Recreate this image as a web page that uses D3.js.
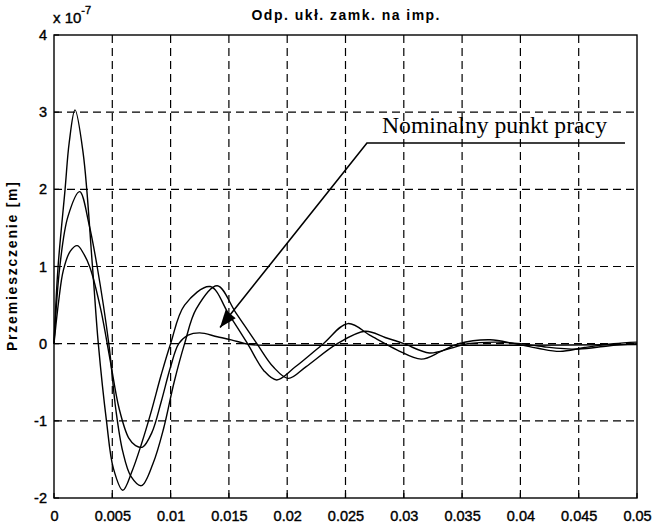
<!DOCTYPE html>
<html>
<head>
<meta charset="utf-8">
<script src="https://cdn.jsdelivr.net/npm/d3@7"></script>
<style>
  html, body { margin: 0; padding: 0; background: #fff; }
  svg { display: block; }
</style>
</head>
<body>
<div id="chart"></div>
<script>
// ---- data (time in s, displacement in units of 1e-7 m) ----
const title = "Odp. ukł. zamk. na imp.";
const yLabel = "Przemieszczenie [m]";
const annotationText = "Nominalny punkt pracy";
const xTicks = [0, 0.005, 0.01, 0.015, 0.02, 0.025, 0.03, 0.035, 0.04, 0.045, 0.05];
const xTickLabels = ["0", "0.005", "0.01", "0.015", "0.02", "0.025", "0.03", "0.035", "0.04", "0.045", "0.05"];
const yTicks = [-2, -1, 0, 1, 2, 3, 4];
const yTickLabels = ["-2", "-1", "0", "1", "2", "3", "4"];

const seriesA = [[0,0],[0.00035,1.0],[0.00095,2.0],[0.0013,2.6],[0.0018,3.03],[0.0025,2.47],[0.0033,1.0],[0.0038,0.0],[0.0045,-1.0],[0.0051,-1.62],[0.0059,-1.9],[0.0067,-1.65],[0.0075,-1.3],[0.0083,-0.9],[0.0092,-0.4],[0.0100,0.0],[0.0112,0.5],[0.0134,0.74],[0.0150,0.38],[0.0166,0.0],[0.0180,-0.35],[0.0191,-0.47],[0.0207,-0.3],[0.0231,0.0],[0.0252,0.26],[0.0272,0.1],[0.0294,-0.08],[0.0315,-0.2],[0.0332,-0.1],[0.0347,0.0],[0.0374,0.05],[0.0395,0.0],[0.0415,-0.06],[0.0434,-0.1],[0.0455,-0.05],[0.0480,0.0],[0.0500,0.02]];
const seriesB = [[0,0],[0.0005,1.0],[0.0012,1.65],[0.0022,1.97],[0.0030,1.55],[0.0037,1.0],[0.0047,0.0],[0.0053,-0.85],[0.0059,-1.4],[0.0066,-1.72],[0.0075,-1.84],[0.0085,-1.55],[0.0094,-1.1],[0.0103,-0.5],[0.0112,0.0],[0.0122,0.45],[0.0140,0.75],[0.0156,0.4],[0.0174,0.0],[0.0188,-0.3],[0.0201,-0.45],[0.0216,-0.3],[0.0243,0.0],[0.0267,0.16],[0.0284,0.08],[0.0300,0.0],[0.0322,-0.12],[0.0340,-0.06],[0.0355,0.0],[0.0380,0.02],[0.0400,0.0],[0.0420,-0.04],[0.0450,-0.07],[0.0475,-0.03],[0.0500,0.0]];
const seriesC = [[0,0],[0.0004,0.55],[0.0008,0.95],[0.0014,1.2],[0.0020,1.27],[0.0026,1.15],[0.0031,0.98],[0.0040,0.45],[0.0048,-0.2],[0.0056,-0.85],[0.0064,-1.22],[0.0070,-1.32],[0.0076,-1.34],[0.0084,-1.15],[0.0092,-0.75],[0.0100,-0.3],[0.0107,0.0],[0.0115,0.11],[0.0125,0.14],[0.0140,0.09],[0.0152,0.05],[0.0168,-0.01],[0.0200,-0.02],[0.0300,-0.02],[0.0400,-0.02],[0.0500,-0.01]];
const seriesList = [seriesA, seriesB, seriesC];

// annotation anchor points in data units: arrow tip, elbow, underline end, text start
const annotTip = [0.01424, 0.21];
const annotElbow = [0.02684, 2.60];
const annotEnd = [0.04897, 2.60];
const annotTextPos = [0.02813, 2.73];

// ---- layout ----
const W = 653, H = 527;
const margin = { left: 54, right: 16, top: 35, bottom: 29 };
const x = d3.scaleLinear().domain([0, 0.05]).range([margin.left, W - margin.right]);
const y = d3.scaleLinear().domain([-2, 4]).range([H - margin.bottom, margin.top]);

const svg = d3.select("#chart").append("svg").attr("width", W).attr("height", H);
svg.append("rect").attr("width", W).attr("height", H).attr("fill", "#fff");

// grid
const grid = svg.append("g").attr("stroke", "#000").attr("stroke-width", 1.2).attr("stroke-dasharray", "8,5").attr("fill", "none");
grid.selectAll("line.vx").data(xTicks.slice(1, -1)).join("line")
  .attr("x1", d => x(d)).attr("x2", d => x(d)).attr("y1", y(-2)).attr("y2", y(4));
grid.selectAll("line.hy").data(yTicks.slice(1, -1)).join("line")
  .attr("x1", x(0)).attr("x2", x(0.05)).attr("y1", d => y(d)).attr("y2", d => y(d));

// axes via d3
const fontTick = "'Liberation Sans', Arial, sans-serif";
const xAxis = d3.axisBottom(x).tickValues(xTicks).tickFormat((d, i) => xTickLabels[i]).tickSize(0).tickPadding(9);
const yAxis = d3.axisLeft(y).tickValues(yTicks).tickFormat((d, i) => yTickLabels[i]).tickSize(0).tickPadding(7);
const gx = svg.append("g").attr("transform", `translate(0,${y(-2)})`).call(xAxis);
const gy = svg.append("g").attr("transform", `translate(${x(0)},0)`).call(yAxis);
[gx, gy].forEach(g => {
  g.select(".domain").remove();
  g.selectAll("text").attr("fill", "#000").attr("stroke", "#000").attr("stroke-width", 0.4)
    .style("font-family", fontTick).style("font-size", "14.5px");
});
gx.selectAll("text").attr("dy", "0.95em");

// inward tick marks
const tk = svg.append("g").attr("stroke", "#000").attr("stroke-width", 1.2);
tk.selectAll("line.xt").data(xTicks).join("line")
  .attr("x1", d => x(d)).attr("x2", d => x(d)).attr("y1", y(-2)).attr("y2", y(-2) - 5);
tk.selectAll("line.yt").data(yTicks).join("line")
  .attr("x1", x(0)).attr("x2", x(0) + 5).attr("y1", d => y(d)).attr("y2", d => y(d));

// box
svg.append("rect").attr("x", x(0)).attr("y", y(4)).attr("width", x(0.05) - x(0)).attr("height", y(-2) - y(4))
  .attr("fill", "none").attr("stroke", "#000").attr("stroke-width", 1.4);

// curves
const line = d3.line().x(d => x(d[0])).y(d => y(d[1])).curve(d3.curveCatmullRom.alpha(0.5));
svg.append("g").selectAll("path").data(seriesList).join("path")
  .attr("d", line).attr("fill", "none").attr("stroke", "#000").attr("stroke-width", 1.4).attr("stroke-linejoin", "round");

// title
svg.append("text").attr("x", (x(0) + x(0.05)) / 2).attr("y", 20).attr("text-anchor", "middle")
  .style("font-family", fontTick).style("font-size", "14px").style("font-weight", "bold")
  .attr("textLength", 188).attr("lengthAdjust", "spacing").text(title);

// exponent
const ex = svg.append("text").attr("x", x(0) - 1).attr("y", 23).style("font-family", fontTick).style("font-size", "15px")
  .attr("fill", "#000").attr("stroke", "#000").attr("stroke-width", 0.4);
ex.append("tspan").text("x 10");
ex.append("tspan").attr("dy", -9).style("font-size", "11px").text("-7");

// y label
svg.append("text").attr("transform", `translate(17,${(y(-2) + y(4)) / 2}) rotate(-90)`).attr("text-anchor", "middle")
  .style("font-family", fontTick).style("font-size", "14px").style("font-weight", "bold")
  .attr("textLength", 169).attr("lengthAdjust", "spacing").text(yLabel);

// annotation
const tip = [x(annotTip[0]), y(annotTip[1])];
const elb = [x(annotElbow[0]), y(annotElbow[1])];
const end = [x(annotEnd[0]), y(annotEnd[1])];
svg.append("polyline").attr("points", [end, elb, tip].map(p => p.join(",")).join(" "))
  .attr("fill", "none").attr("stroke", "#000").attr("stroke-width", 1.6);
const ang = Math.atan2(tip[1] - elb[1], tip[0] - elb[0]);
const hl = 17, hw = 6.5;
const bx = tip[0] - hl * Math.cos(ang), by = tip[1] - hl * Math.sin(ang);
const head = [tip,
  [bx + hw * Math.sin(ang), by - hw * Math.cos(ang)],
  [bx - hw * Math.sin(ang), by + hw * Math.cos(ang)]];
svg.append("polygon").attr("points", head.map(p => p.join(",")).join(" ")).attr("fill", "#000");
svg.append("text").attr("x", x(annotTextPos[0])).attr("y", y(annotTextPos[1]))
  .style("font-family", "'Liberation Serif', 'Times New Roman', serif").style("font-size", "23.5px")
  .attr("textLength", 225).attr("lengthAdjust", "spacingAndGlyphs").text(annotationText);
</script>
</body>
</html>
